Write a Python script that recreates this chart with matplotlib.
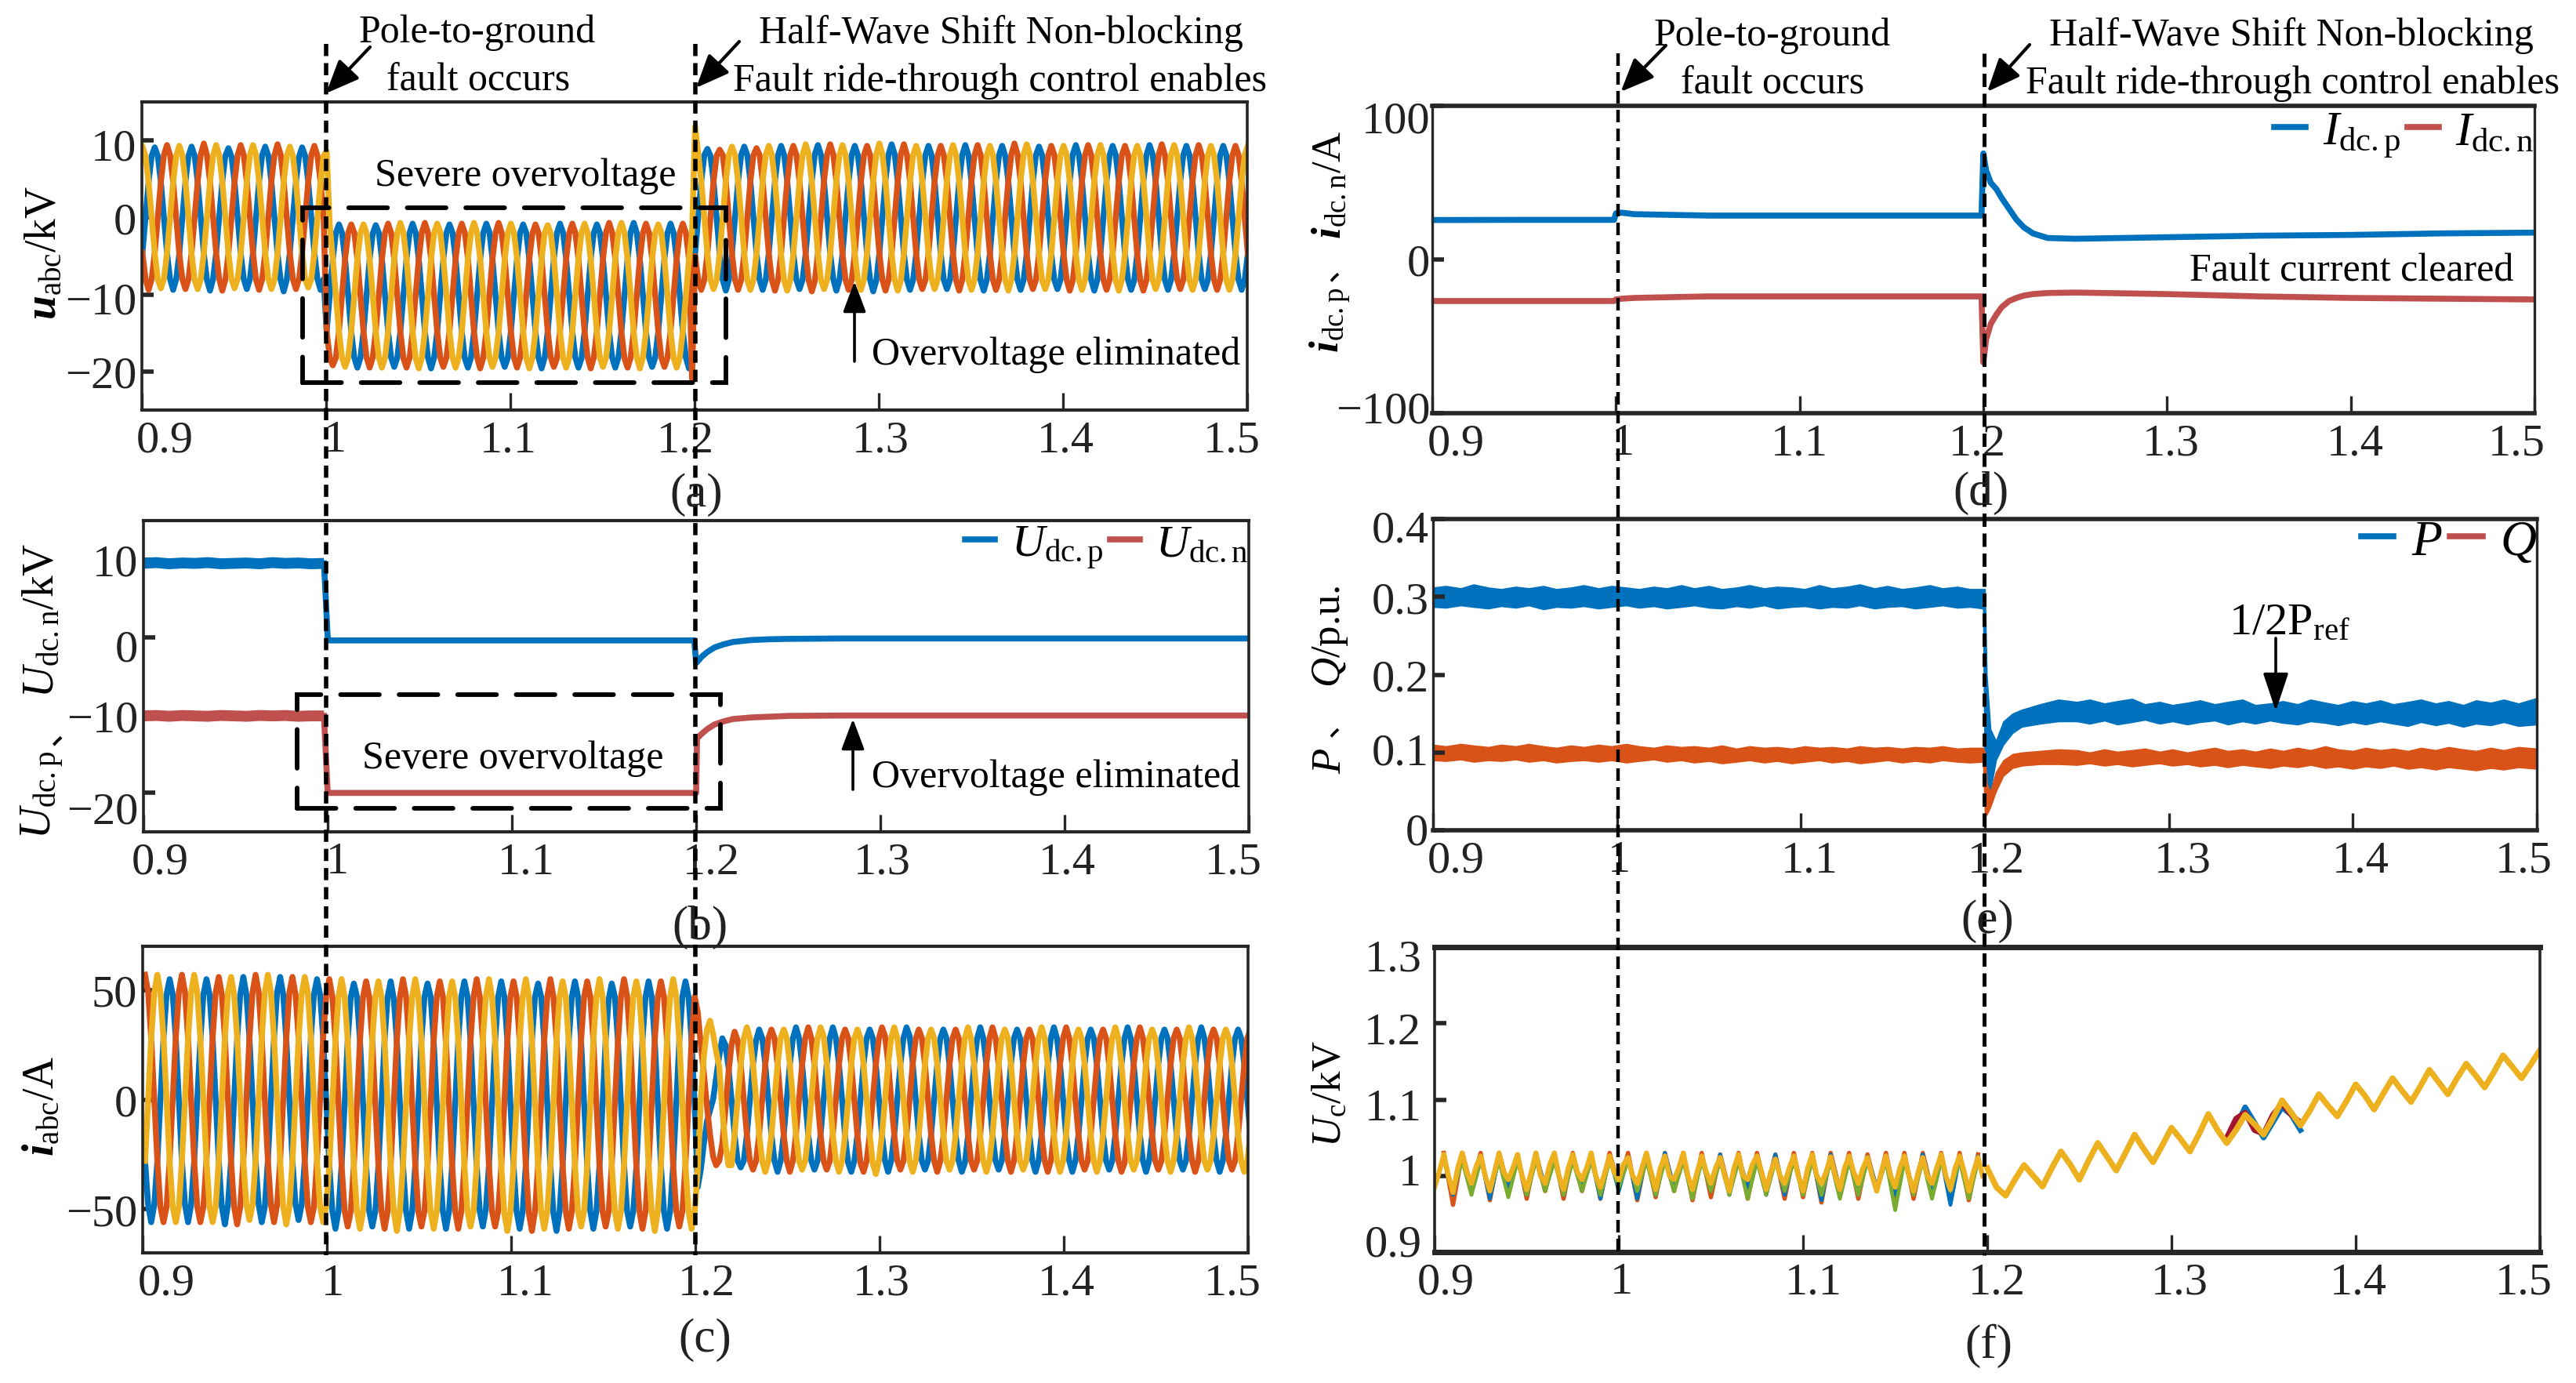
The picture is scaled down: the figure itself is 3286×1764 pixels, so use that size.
import numpy as np
import matplotlib
matplotlib.use('Agg')
import matplotlib.pyplot as plt
from matplotlib.lines import Line2D
from matplotlib.patches import Rectangle, FancyArrowPatch
from matplotlib.transforms import ScaledTranslation

plt.rcParams['font.family'] = ['Liberation Serif', 'Noto Sans CJK SC']
plt.rcParams['mathtext.fontset'] = 'custom'
plt.rcParams['mathtext.rm'] = 'Liberation Serif'
plt.rcParams['mathtext.it'] = 'Liberation Serif:italic'
plt.rcParams['mathtext.bf'] = 'Liberation Serif:bold'
plt.rcParams['mathtext.bfit'] = 'Liberation Serif:italic:bold'

W, H = 3287, 1765
BLUE, ORANGE, YELLOW, RED = '#0072BD', '#D95319', '#EDB120', '#C0504D'
SPINE = '#262626'

# panel (a) phase voltages, kV, sampled every 1/600 s from t = 0.9003
ua_blue = [
-4.6,0,4.6,8,9.1,8,4.6,0,-4.6,-8,-9.4,-8,
-4.7,0,4.6,8,9.2,8,4.6,0,-4.7,-8.1,-9.5,-8,
-4.6,0.1,4.6,8,9.0,7.9,4.6,0,-4.6,-8,-9.3,-8,
-4.6,0,4.7,8.1,9.2,8,4.6,0,-4.7,-8.1,-9.6,-8.1,
-4.6,0,4.6,7.9,9.1,8,4.6,0,-4.6,-8,-9.4,-8,
-14.8,-10.1,-5.4,-2,-0.9,-2,-5.4,-10.1,-14.8,-18.2,-19.5,-18.2,
-14.8,-10.1,-5.4,-2.1,-1,-2,-5.4,-10.1,-14.8,-18.2,-19.4,-18.2,
-14.8,-10.1,-5.4,-2,-0.8,-2,-5.4,-10.1,-14.8,-18.2,-19.6,-18.2,
-14.8,-10,-5.4,-2,-0.9,-2,-5.4,-10.1,-14.8,-18.3,-19.5,-18.2,
-14.8,-10.1,-5.4,-2,-0.8,-1.9,-5.4,-10.1,-14.8,-18.2,-19.4,-18.2,
-14.8,-10.1,-5.4,-2,-0.9,-2,-5.4,-10,-14.8,-18.2,-19.6,-18.2,
-14.8,-10.1,-5.3,-2,-0.8,-2,-5.4,-10.1,-14.8,-18.2,-19.5,-18.3,
-14.8,-10.1,-5.4,-2,-0.9,-2,-5.4,-10.1,-14.9,-18.2,-19.5,-18.2,
-14.8,-10.1,-5.4,-1.9,-0.7,-2,-5.4,-10.1,-14.8,-18.2,-19.4,-18.2,
-14.8,-10.1,-5.4,-2,-0.8,-2,-5.4,-10.1,-14.8,-18.2,-19.6,-18.2,
-4.7,0,4.7,8.1,8.9,8,4.7,0,-4.7,-8.1,-9.5,-8.1,
-4.7,0,4.7,8.1,9.2,8.1,4.7,0,-4.7,-8.1,-9.4,-8.1,
-4.6,0,4.7,8.1,9.3,8.1,4.7,0.1,-4.7,-8.1,-9.3,-8.1,
-4.7,0,4.7,8.2,9.4,8.1,4.6,0,-4.7,-8,-9.5,-8.1,
-4.7,0.1,4.7,8.1,9.3,8.1,4.7,0,-4.7,-8.1,-9.6,-8.2,
-4.7,0,4.8,8.2,9.5,8.2,4.7,0,-4.7,-8.1,-9.4,-8.1,
-4.7,0,4.7,8.1,9.3,8.1,4.7,0,-4.7,-8.1,-9.3,-8.1,
-4.6,0,4.7,8.1,9.4,8.1,4.7,0,-4.8,-8.2,-9.5,-8.1,
-4.7,0,4.7,8.1,9.3,8,4.7,0.1,-4.7,-8.1,-9.4,-8.1,
-4.7,0,4.6,8.1,9.2,8.1,4.7,0,-4.7,-8.1,-9.3,-8.1,
-4.7,0,4.7,8.2,9.4,8.1,4.7,0,-4.7,-8.1,-9.5,-8.1,
-4.7,0.1,4.7,8.1,9.3,8.1,4.7,0,-4.7,-8.1,-9.4,-8.2,
-4.7,0,4.7,8.1,9.4,8.2,4.7,0,-4.7,-8.1,-9.4,-8.1,
-4.7,0,4.7,8.1,9.3,8.1,4.7,0,-4.6,-8.1,-9.3,-8.1,
-4.7,0,4.7,8.1,9.3,8.1,4.7,0,-4.7,-8.1,-9.4,-8.1,-4.7]
ua_orange = [
-4.6,-8,-9.4,-8,-4.6,0,4.6,8.1,9.4,8.1,4.6,0,
-4.7,-8,-9.3,-8,-4.6,0,4.7,8.2,9.6,8.1,4.7,0,
-4.6,-8,-9.5,-8.1,-4.7,0,4.6,8.1,9.4,8.1,4.6,0,
-4.6,-8.1,-9.4,-8,-4.6,0.1,4.7,8.1,9.5,8.2,4.7,0,
-4.6,-8,-9.3,-8,-4.6,0,4.6,8.1,9.3,8,4.6,0,
-14.8,-18.2,-19.2,-18.2,-14.8,-10.1,-5.4,-2,-0.9,-2,-5.4,-10.1,
-14.8,-18.2,-19.5,-18.2,-14.8,-10.1,-5.4,-2,-0.8,-2,-5.4,-10.1,
-14.8,-18.3,-19.5,-18.2,-14.8,-10,-5.4,-1.9,-0.7,-2,-5.4,-10.1,
-14.8,-18.2,-19.4,-18.2,-14.8,-10.1,-5.4,-2,-0.8,-2,-5.3,-10.1,
-14.9,-18.2,-19.6,-18.2,-14.8,-10.1,-5.4,-2,-0.7,-2,-5.4,-10.1,
-14.8,-18.2,-19.5,-18.2,-14.8,-10.1,-5.4,-2.1,-0.9,-2,-5.4,-10.1,
-14.8,-18.2,-19.4,-18.3,-14.8,-10.1,-5.4,-2,-0.8,-2,-5.4,-10.1,
-14.8,-18.2,-19.6,-18.2,-14.8,-10.1,-5.4,-1.9,-0.7,-2,-5.4,-10.1,
-14.9,-18.3,-19.5,-18.2,-14.8,-10.1,-5.4,-2,-0.8,-2,-5.4,-10.1,
-14.8,-18.2,-19.4,-18.2,-14.8,-10.1,-5.4,-2,-0.8,-2,-5.4,-21,
-5,-8.1,-9.4,-8.1,-4.7,0,4.7,8,8.8,8.1,4.7,0,
-4.7,-8.1,-9.4,-8.1,-4.7,0,4.7,8.1,9,8.1,4.7,0,
-4.7,-8.1,-9.5,-8.1,-4.7,0.1,4.7,8.1,9.3,8.1,4.7,0,
-4.7,-8.2,-9.6,-8.2,-4.7,0,4.8,8.2,9.5,8.2,4.7,0,
-4.7,-8.1,-9.4,-8.1,-4.7,0,4.7,8.1,9.3,8.1,4.7,0,
-4.6,-8.1,-9.5,-8.1,-4.7,0,4.7,8.2,9.5,8.1,4.7,0.1,
-4.7,-8.1,-9.3,-8.1,-4.7,0,4.7,8.1,9.3,8.1,4.7,0,
-4.7,-8.2,-9.5,-8.1,-4.7,0,4.7,8.1,9.4,8.1,4.7,0,
-4.7,-8.1,-9.4,-8.1,-4.7,0.1,4.7,8.2,9.6,8.2,4.7,0,
-4.7,-8.1,-9.3,-8.1,-4.7,0,4.7,8.1,9.3,8.1,4.6,0,
-4.7,-8.1,-9.5,-8.2,-4.7,0,4.7,8.1,9.4,8.1,4.7,0,
-4.7,-8.1,-9.4,-8.1,-4.7,0,4.7,8.1,9.3,8.1,4.7,0,
-4.8,-8.2,-9.5,-8.1,-4.7,0,4.7,8.2,9.5,8.1,4.7,0,
-4.7,-8.1,-9.3,-8.1,-4.7,0.1,4.7,8.1,9.4,8.1,4.7,0,
-4.7,-8.1,-9.4,-8.1,-4.7,0,4.7,8.1,9.3,8.1,4.7,0,-4.7]
ua_yellow = [
9.2,8,4.6,0,-4.6,-8,-9.2,-8,-4.6,0,4.6,8,
9.3,8.1,4.7,0,-4.7,-8.1,-9.3,-8,-4.6,0,4.6,8,
9.4,8.1,4.7,0.1,-4.6,-8,-9.2,-8,-4.7,0,4.7,8.1,
9.4,8.1,4.6,0,-4.6,-8,-9.3,-8.1,-4.7,0,4.6,8,
9.2,8,4.6,0,-4.6,-8,-9.1,-8,-4.6,0,4.6,8,
8.6,-1,-5.4,-10.1,-14.8,-18.2,-19.4,-18.2,-14.8,-10.1,-5.4,-2,
-0.9,-2,-5.4,-10.1,-14.8,-18.2,-19.5,-18.2,-14.8,-10.1,-5.4,-2,
-0.7,-2,-5.4,-10.1,-14.8,-18.3,-19.6,-18.2,-14.8,-10.1,-5.4,-2,
-0.8,-1.9,-5.4,-10,-14.8,-18.2,-19.5,-18.2,-14.8,-10.1,-5.4,-2,
-0.7,-2,-5.4,-10.1,-14.8,-18.2,-19.4,-18.2,-14.9,-10.1,-5.4,-2,
-0.8,-2,-5.3,-10.1,-14.8,-18.2,-19.6,-18.3,-14.8,-10.1,-5.4,-2,
-1,-2.1,-5.4,-10.1,-14.8,-18.2,-19.5,-18.2,-14.8,-10,-5.4,-2,
-0.8,-2,-5.4,-10.1,-14.8,-18.2,-19.4,-18.2,-14.8,-10.1,-5.4,-1.9,
-0.7,-2,-5.4,-10.1,-14.9,-18.2,-19.6,-18.2,-14.8,-10.1,-5.4,-2,
-0.9,-2,-5.4,-10.1,-14.8,-18.2,-19.5,-18.2,-14.8,-10.1,-5.4,-2,
11.8,8.2,4.7,0,-4.7,-8.1,-9.3,-8.1,-4.7,0,4.7,8.1,
9.2,8.1,4.7,0,-4.7,-8.1,-9.4,-8.1,-4.7,0,4.7,8.1,
9.3,8.1,4.7,0,-4.8,-8.2,-9.5,-8.1,-4.7,0,4.7,8.1,
9.5,8.2,4.7,0.1,-4.7,-8.1,-9.3,-8.1,-4.7,0,4.7,8.1,
9.4,8.1,4.7,0,-4.7,-8.1,-9.4,-8.1,-4.6,0,4.7,8.2,
9.6,8.2,4.7,0,-4.7,-8.1,-9.5,-8.2,-4.7,0,4.7,8.1,
9.3,8.1,4.7,0,-4.7,-8,-9.3,-8.1,-4.7,0.1,4.7,8.1,
9.4,8.1,4.7,0,-4.7,-8.1,-9.4,-8.1,-4.7,0,4.7,8.1,
9.3,8.1,4.6,0,-4.7,-8.1,-9.5,-8.1,-4.7,0,4.8,8.2,
9.5,8.2,4.7,0,-4.7,-8.1,-9.3,-8.1,-4.7,0,4.7,8.1,
9.3,8.1,4.7,0.1,-4.7,-8.1,-9.4,-8.1,-4.7,0,4.7,8.1,
9.4,8.1,4.7,0,-4.7,-8.2,-9.5,-8.1,-4.7,0,4.7,8.1,
9.3,8.1,4.7,0,-4.7,-8.1,-9.3,-8.1,-4.7,0,4.7,8.1,
9.4,8.1,4.7,0,-4.7,-8.1,-9.4,-8.1,-4.7,0,4.7,8.1,
9.3,8.1,4.7,0,-4.7,-8.1,-9.4,-8.1,-4.7,0,4.7,8.1,9.3]

# panel (c) phase currents, A, sampled every 1/600 s from t = 0.9013
ic_blue = [
-28,-48,-56,-48,-28,0,28,48,55,48,28,0,
-28,-48,-56,-48,-28,0,27,48,55,48,28,0,
-28,-49,-57,-48,-28,0,28,48,56,48,28,0,
-28,-48,-56,-49,-28,0,28,49,56,48,27,0,
-28,-48,-55,-48,-28,0,28,48,55,48,28,0,
-30,-51,-59,-51,-30,-2,27,47,53,47,27,-2,
-30,-51,-58,-51,-30,-2,27,47,54,46,27,-2,
-30,-51,-59,-51,-30,-2,27,47,53,47,27,-2,
-31,-51,-59,-51,-30,-2,27,47,54,47,27,-2,
-30,-51,-58,-50,-30,-2,26,47,54,47,27,-2,
-30,-51,-59,-51,-30,-2,27,47,53,47,27,-2,
-30,-52,-60,-51,-30,-2,27,47,54,47,27,-2,
-30,-51,-59,-51,-30,-2,27,46,53,47,27,-2,
-30,-51,-58,-51,-31,-2,27,47,54,47,27,-2,
-30,-51,-59,-51,-30,-2,27,47,54,47,27,-2,
-40,-32,-20,-10,-5,0,10,20,28,25,15,0,
-16,-28,-31,-28,-16,0,16,27,32,28,16,0,
-16,-28,-33,-28,-16,0,16,28,33,28,16,0,
-16,-28,-32,-28,-16,0,16,28,33,28,16,0,
-17,-29,-33,-28,-16,0,16,28,32,28,16,0,
-16,-28,-33,-28,-16,0,16,28,33,29,17,0,
-16,-28,-32,-28,-16,0,16,28,32,28,16,0,
-16,-28,-33,-29,-17,0,16,28,33,28,16,0,
-16,-28,-32,-28,-16,0,16,28,32,28,16,0,
-16,-28,-33,-28,-16,0,16,28,33,28,16,0,
-17,-28,-33,-28,-16,0,16,28,32,28,16,0,
-16,-28,-32,-28,-16,0,16,28,33,28,16,0,
-16,-28,-33,-28,-16,0,16,28,32,28,16,0,
-16,-28,-32,-28,-16,0,16,28,33,28,16,0,
-16,-28,-33,-28,-16,0,16,28,32,28,16,0,-16]
ic_orange = [
57,49,28,0,-28,-49,-56,-49,-28,0,28,49,
57,49,28,0,-28,-49,-56,-49,-28,0,28,49,
56,48,28,0,-28,-49,-57,-49,-28,0,28,49,
57,49,28,0,-28,-48,-56,-48,-28,0,28,49,
56,48,28,0,-28,-49,-56,-49,-28,0,28,48,
55,47,27,-2,-30,-51,-58,-51,-30,-2,27,47,
54,47,27,-2,-30,-51,-59,-51,-30,-2,27,47,
55,47,27,-2,-30,-51,-58,-51,-30,-2,27,47,
54,47,26,-2,-30,-51,-59,-51,-30,-2,27,47,
55,47,27,-2,-30,-51,-58,-51,-31,-2,27,47,
54,47,27,-2,-30,-52,-60,-51,-30,-2,27,47,
55,47,27,-2,-30,-51,-59,-51,-30,-2,27,47,
54,47,27,-2,-30,-51,-58,-51,-30,-2,26,47,
55,47,27,-2,-30,-51,-59,-51,-30,-2,27,47,
54,47,27,-2,-30,-51,-58,-51,-30,-2,27,47,
40,25,12,-3,-16,-26,-30,-28,-20,-5,12,25,
31,27,16,0,-16,-28,-32,-28,-16,0,16,28,
32,28,16,0,-16,-28,-33,-28,-16,0,16,28,
33,28,16,0,-16,-28,-32,-28,-16,0,16,28,
32,28,16,0,-16,-29,-33,-28,-16,0,16,28,
33,29,17,0,-16,-28,-32,-28,-16,0,16,28,
32,28,16,0,-16,-28,-33,-28,-17,0,16,28,
32,28,16,0,-16,-28,-32,-28,-16,0,16,28,
33,28,16,0,-16,-28,-33,-28,-16,0,16,28,
32,28,16,0,-16,-28,-33,-28,-16,0,16,28,
33,28,16,0,-16,-28,-32,-28,-16,0,16,28,
32,28,16,0,-16,-28,-33,-29,-16,0,16,28,
33,28,16,0,-16,-28,-32,-28,-16,0,16,28,
32,28,16,0,-16,-28,-33,-28,-16,0,16,28,
32,28,16,0,-16,-28,-32,-28,-16,0,16,28,32]
ic_yellow = [
-28,0,28,49,57,49,28,0,-28,-49,-56,-49,
-28,0,28,49,57,49,28,0,-28,-49,-56,-49,
-28,0,28,49,56,48,28,0,-28,-48,-55,-48,
-28,0,28,49,57,49,28,0,-28,-49,-57,-49,
-28,0,28,48,56,49,28,0,-28,-49,-56,-49,
-30,-2,27,47,55,47,27,-2,-30,-51,-59,-51,
-30,-2,27,47,54,47,27,-2,-30,-51,-60,-51,
-30,-2,27,47,55,47,27,-2,-31,-51,-59,-51,
-30,-2,26,47,54,47,27,-2,-30,-51,-58,-51,
-30,-2,27,47,55,47,27,-2,-30,-52,-60,-51,
-30,-2,27,47,55,47,27,-2,-30,-51,-59,-51,
-30,-2,27,47,54,47,26,-2,-30,-51,-58,-51,
-30,-2,27,47,55,47,27,-2,-30,-51,-59,-51,
-30,-2,27,47,54,47,27,-2,-30,-51,-60,-51,
-30,-2,27,47,55,47,27,-2,-30,-51,-59,-51,
-32,0,20,32,36,30,22,15,-5,-20,-30,-30,
-16,0,16,28,33,28,16,0,-16,-28,-33,-28,
-16,0,16,28,32,28,16,0,-16,-28,-32,-28,
-16,0,16,28,33,29,17,0,-16,-28,-33,-28,
-16,0,16,28,32,28,16,0,-16,-29,-34,-28,
-16,0,16,28,33,28,16,0,-16,-28,-33,-28,
-16,0,16,28,32,28,16,0,-16,-28,-32,-28,
-16,0,16,28,33,28,16,0,-17,-28,-33,-28,
-16,0,16,28,32,28,16,0,-16,-28,-32,-28,
-16,0,16,28,33,28,16,0,-16,-28,-33,-28,
-16,0,16,28,32,28,16,0,-16,-28,-33,-28,
-16,0,16,28,33,28,16,0,-16,-28,-32,-28,
-16,0,16,28,32,28,16,0,-16,-28,-33,-28,
-16,0,16,28,33,28,16,0,-16,-28,-32,-28,
-16,0,16,28,32,28,16,0,-16,-28,-33,-28,-16]

# panel (b) DC pole voltages, kV
tb_pre = [.9,.907,.914,.921,.928,.935,.942,.949,.956,.963,.97,.977,.984,.991,.998]
ub_p_pre = [9.5,9.6,9.45,9.55,9.5,9.6,9.45,9.5,9.55,9.45,9.6,9.5,9.55,9.45,9.5]
ub_n_pre = [-10.1,-10.05,-10.15,-10.05,-10.1,-10.15,-10.05,-10.1,-10.15,-10.05,-10.1,-10.05,-10.15,-10.1,-10.1]
tb_post = [.998,1.0,1.001,1.05,1.1,1.15,1.199,1.2,1.2005,1.203,1.206,1.21,1.215,1.22,1.23,1.24,1.25,1.28,1.32,1.4,1.5]
ub_p_post = [9.5,0,-0.4,-0.4,-0.4,-0.4,-0.4,-3.3,-3.2,-2.5,-1.9,-1.3,-0.9,-0.6,-0.35,-0.25,-0.2,-0.15,-0.15,-0.15,-0.15]
ub_n_post = [-10.1,-20,-20,-20,-20,-20,-20,-20,-13,-12.4,-11.8,-11.2,-10.8,-10.5,-10.3,-10.2,-10.1,-10.05,-10.05,-10.05,-10.05]

# panel (d) DC pole currents, A
td = [.9,.95,.999,1.0,1.003,1.01,1.05,1.1,1.199,1.2,1.2015,1.204,1.207,1.21,1.214,1.218,1.222,1.227,1.235,1.25,1.3,1.35,1.4,1.45,1.5]
id_p = [25.7,25.8,25.8,30,30.5,29.5,28.6,28.6,28.6,69,58,50,46,40,33,26,21,17,14,13.5,14.5,15.5,16,17,17.5]
id_n = [-27,-27,-27,-26,-25.5,-25,-24,-24,-24,-67,-52,-42,-36,-31,-27,-25,-23.5,-22.5,-21.8,-21.5,-22.5,-24,-25,-25.5,-26]

# panel (e) active and reactive power envelopes, p.u.
te = [.9,.907,.915,.922,.93,.937,.945,.952,.96,.967,.975,.982,.99,.997,1.005,1.012,1.02,1.027,1.035,1.042,1.05,1.057,1.065,1.072,1.08,1.087,1.095,1.102,1.11,1.117,1.125,1.132,1.14,1.147,1.155,1.162,1.17,1.177,1.185,1.192,
      1.199,1.2,1.201,1.203,1.206,1.21,1.215,1.22,1.23,1.24,
      1.25,1.257,1.265,1.272,1.28,1.287,1.295,1.302,1.31,1.317,1.325,1.332,1.34,1.347,1.355,1.362,1.37,1.377,1.385,1.392,1.4,1.407,1.415,1.422,1.43,1.437,1.445,1.452,1.46,1.467,1.475,1.482,1.49,1.5]
p_hi = [.312,.314,.311,.316,.312,.31,.313,.311,.314,.31,.312,.315,.311,.314,.312,.31,.313,.311,.315,.311,.314,.31,.312,.315,.311,.313,.312,.31,.315,.311,.313,.316,.311,.314,.31,.312,.315,.311,.313,.31,
        .31,.31,.2,.13,.115,.14,.15,.155,.162,.168,
        .165,.168,.163,.166,.169,.162,.165,.161,.164,.167,.162,.165,.168,.161,.163,.166,.162,.168,.164,.161,.166,.163,.167,.162,.165,.168,.163,.166,.161,.167,.164,.168,.163,.17]
p_lo = [.287,.286,.289,.287,.285,.288,.286,.289,.284,.287,.286,.288,.285,.287,.289,.286,.288,.285,.287,.289,.286,.285,.288,.286,.289,.285,.287,.288,.285,.287,.286,.289,.285,.287,.288,.285,.287,.289,.286,.287,
        .285,.03,.03,.05,.09,.11,.125,.133,.137,.14,
        .14,.137,.141,.136,.139,.142,.137,.14,.136,.139,.141,.136,.14,.137,.141,.138,.136,.14,.138,.135,.139,.136,.14,.137,.134,.139,.135,.138,.133,.137,.135,.139,.134,.136]
q_hi = [.11,.108,.111,.109,.107,.11,.108,.111,.108,.106,.109,.107,.11,.108,.111,.108,.106,.109,.107,.108,.106,.109,.105,.108,.106,.107,.105,.108,.106,.107,.105,.108,.106,.107,.105,.107,.106,.108,.105,.106,
        .106,.1,.06,.05,.075,.09,.098,.1,.102,.104,
        .103,.1,.104,.101,.103,.105,.101,.104,.1,.103,.106,.102,.104,.101,.105,.102,.106,.103,.108,.104,.102,.106,.103,.105,.102,.106,.103,.107,.104,.102,.106,.103,.107,.105]
q_lo = [.09,.089,.091,.088,.09,.089,.091,.088,.09,.087,.089,.09,.088,.09,.087,.089,.091,.088,.09,.087,.089,.086,.088,.09,.087,.089,.086,.088,.09,.087,.089,.086,.088,.09,.087,.089,.087,.09,.088,.087,
        .088,.018,.02,.03,.05,.07,.08,.083,.085,.085,
        .084,.086,.083,.085,.082,.084,.086,.083,.085,.082,.084,.081,.084,.082,.08,.083,.081,.084,.08,.082,.079,.082,.08,.083,.079,.081,.078,.081,.079,.077,.08,.078,.081,.079]

# panel (f) capacitor voltage traces, kV
tf_pre_y = [.9,.9025,.905,.9075,.91,.9125,.915,.9175,.92,.9225,.925,.9275,.93,.9325,.935,.9375,.94,.9425,.945,.9475,.95,.9525,.955,.9575,.96,.9625,.965,.9675,.97,.9725,.975,.9775,.98,.9825,.985,.9875,.99,.9925,.995,.9975,
            1.0,1.0025,1.005,1.0075,1.01,1.0125,1.015,1.0175,1.02,1.0225,1.025,1.0275,1.03,1.0325,1.035,1.0375,1.04,1.0425,1.045,1.0475,1.05,1.0525,1.055,1.0575,1.06,1.0625,1.065,1.0675,1.07,1.0725,1.075,1.0775,1.08,1.0825,1.085,1.0875,1.09,1.0925,1.095,1.0975,
            1.1,1.1025,1.105,1.1075,1.11,1.1125,1.115,1.1175,1.12,1.1225,1.125,1.1275,1.13,1.1325,1.135,1.1375,1.14,1.1425,1.145,1.1475,1.15,1.1525,1.155,1.1575,1.16,1.1625,1.165,1.1675,1.17,1.1725,1.175,1.1775,1.18,1.1825,1.185,1.1875,1.19,1.1925,1.195,1.1975]
uf_pre_y = [.985,1.005,1.028,1.0,.978,1.01,1.03,1.005,.99,1.012,1.026,1.0,.98,1.005,1.03,1.005,.995,1.01,1.028,1.0,.982,1.005,1.03,1.0,.99,1.015,1.03,1.0,.982,1.01,1.028,1.005,.995,1.01,1.03,1.0,.985,1.005,1.026,1.005,
            .995,1.015,1.024,1.0,.99,1.01,1.03,1.005,.982,1.01,1.026,1.0,.995,1.01,1.03,1.0,.982,1.005,1.026,1.005,.99,1.01,1.024,1.0,.98,1.01,1.028,1.0,.995,1.015,1.026,1.005,.982,1.005,1.022,1.0,.99,1.01,1.026,1.0,
            .98,1.01,1.028,1.0,.99,1.005,1.025,1.0,.982,1.01,1.026,1.005,.99,1.01,1.024,1.0,.98,1.005,1.026,1.0,.985,1.01,1.026,1.0,.98,1.005,1.024,1.0,.99,1.01,1.028,1.0,.982,1.01,1.026,1.005,.98,1.005,1.024,1.0]
tf_post = [1.2,1.205,1.21,1.215,1.22,1.225,1.23,1.235,1.24,1.245,1.25,1.255,1.26,1.265,1.27,1.275,1.28,1.285,1.29,1.295,1.3,1.305,1.31,1.315,1.32,1.325,1.33,1.335,1.34,1.345,1.35,1.355,1.36,1.365,1.37,1.375,1.38,1.385,1.39,1.395,1.4,1.405,1.41,1.415,1.42,1.425,1.43,1.435,1.44,1.445,1.45,1.455,1.46,1.465,1.47,1.475,1.48,1.485,1.49,1.495,1.5]
uf_post_y = [1.01,.985,.974,.995,1.014,1.0,.986,1.01,1.032,1.015,.995,1.02,1.043,1.025,1.007,1.03,1.054,1.035,1.018,1.04,1.063,1.048,1.032,1.055,1.081,1.06,1.043,1.06,1.08,1.068,1.054,1.075,1.099,1.083,1.066,1.085,1.107,1.092,1.078,1.098,1.12,1.105,1.087,1.108,1.128,1.112,1.097,1.117,1.139,1.123,1.107,1.128,1.147,1.132,1.116,1.136,1.158,1.143,1.128,1.146,1.165]
tf_under = [.905,.91,.915,.92,.925,.93,.935,.94,.945,.95,.955,.96,.965,.97,.975,.98,.985,.99,.995,1.0,1.005,1.01,1.015,1.02,1.025,1.03,1.035,1.04,1.045,1.05,1.055,1.06,1.065,1.07,1.075,1.08,1.085,1.09,1.095,1.1,1.105,1.11,1.115,1.12,1.125,1.13,1.135,1.14,1.145,1.15,1.155,1.16,1.165,1.17,1.175,1.18,1.185,1.19,1.195]
uf_orange = [1.03,.962,1.03,.985,1.03,.968,1.03,.985,1.028,.97,1.03,.98,1.03,.97,1.03,.98,1.03,.97,1.03,.985,1.03,.968,1.028,.972,1.03,.98,1.03,.968,1.03,.972,1.028,.98,1.03,.97,1.03,.98,1.028,.97,1.03,.972,1.03,.965,1.03,.98,1.03,.97,1.028,.98,1.03,.972,1.03,.97,1.03,.98,1.03,.97,1.03,.968,1.028]
uf_blue = [1.025,.975,1.028,.98,1.025,.97,1.025,.985,1.025,.975,1.028,.985,1.025,.975,1.025,.985,1.025,.97,1.025,.98,1.025,.97,1.028,.975,1.03,.985,1.025,.975,1.025,.98,1.028,.975,1.025,.985,1.025,.975,1.028,.975,1.025,.98,1.025,.968,1.028,.98,1.025,.975,1.025,.985,1.025,.975,1.025,.978,1.028,.98,1.025,.962,1.025,.975,1.025]
uf_green = [1.02,.98,1.02,.975,1.02,.98,1.02,.972,1.02,.975,1.02,.98,1.02,.975,1.02,.98,1.02,.975,1.02,.985,1.02,.98,1.02,.975,1.02,.98,1.02,.97,1.02,.98,1.02,.975,1.02,.97,1.02,.975,1.02,.98,1.02,.975,1.02,.975,1.02,.97,1.02,.975,1.02,.98,1.02,.955,1.02,.975,1.02,.97,1.02,.98,1.02,.97,1.02]
tf_post_under = [1.33,1.335,1.34,1.345,1.35,1.355,1.36,1.365,1.37]
uf_post_blue = [1.045,1.065,1.09,1.07,1.05,1.07,1.09,1.08,1.06]
uf_post_red = [1.05,1.075,1.083,1.06,1.055,1.08,1.095,1.08,1.07]

def px_x(x): return x / W
def px_y(y): return 1 - y / H

def make_axes(l, t, r, b, ylim, yticks, ylabels, ylw, xnudge, ynudge, xlw, ypad):
    ax = fig.add_axes([l / W, 1 - b / H, (r - l) / W, (b - t) / H])
    ax.set_xlim(.9, 1.5)
    ax.set_ylim(*ylim)
    ax.set_xticks([.9, 1, 1.1, 1.2, 1.3, 1.4, 1.5])
    ax.set_xticklabels(['0.9', '1', '1.1', '1.2', '1.3', '1.4', '1.5'])
    ax.set_yticks(yticks)
    ax.set_yticklabels(ylabels)
    ax.tick_params(axis='x', direction='in', length=16, width=2.4, color=SPINE,
                   labelsize=42, labelcolor='#222222', pad=9)
    ax.tick_params(axis='y', direction='in', length=11, width=4, color=SPINE,
                   labelsize=42, labelcolor='#222222', pad=ypad)
    for s in ('top', 'bottom'):
        ax.spines[s].set_linewidth(ylw)
    for s in ('left', 'right'):
        ax.spines[s].set_linewidth(xlw)
    for s in ax.spines.values():
        s.set_color(SPINE)
    for lab, dx in zip(ax.get_xticklabels(), xnudge):
        lab.set_transform(lab.get_transform() + ScaledTranslation(dx / 100, 0, fig.dpi_scale_trans))
    for lab, dy in zip(ax.get_yticklabels(), ynudge):
        lab.set_transform(lab.get_transform() + ScaledTranslation(0, dy / 100, fig.dpi_scale_trans))
    return ax

def ftext(x, y, s, size=36, **kw):
    kw.setdefault('ha', 'center')
    kw.setdefault('va', 'center')
    if 'rotation' not in kw:
        y = y + 3
    fig.text(px_x(x), px_y(y), s, fontsize=size, color=kw.pop('color', 'black'), **kw)

def vline(x, y0, y1, lw, on, off):
    fig.add_artist(Line2D([px_x(x), px_x(x)], [px_y(y0), px_y(y1)], color='black',
                          lw=lw, linestyle=(0, (on, off)), transform=fig.transFigure))

def drect(l, t, r, b):
    fig.add_artist(Rectangle((px_x(l), px_y(b)), (r - l) / W, (b - t) / H, fill=False,
                             ec='black', lw=4.2, linestyle=(0, (8.5, 4.3)),
                             transform=fig.transFigure, capstyle='round'))

def arrow(x0, y0, x1, y1, lw=3, hl=2.6, hw=1.1):
    fig.add_artist(FancyArrowPatch((px_x(x0), px_y(y0)), (px_x(x1), px_y(y1)),
                                   transform=fig.transFigure, color='black', lw=lw,
                                   arrowstyle=f'-|>,head_length={hl},head_width={hw}',
                                   mutation_scale=10, shrinkA=0, shrinkB=0))

fig = plt.figure(figsize=(W / 100, H / 100), dpi=100, facecolor='white')

ax_a = make_axes(181, 131, 1591, 524, (-25, 15), [10, 0, -10, -20], ['10', '0', '\u221210', '\u221220'],
                 3, [29, 11, -3, -12, 2, 3, -20], [-4, 0, -4, 0], 2.6, 5)
t_a = .9003 + np.arange(len(ua_blue)) / 600
ax_a.plot(t_a, ua_blue, color=BLUE, lw=5.4)
ax_a.plot(t_a, ua_orange, color=ORANGE, lw=5.4)
ax_a.plot(t_a, ua_yellow, color=YELLOW, lw=5.4)

ax_b = make_axes(183, 665, 1593, 1062, (-25, 15), [10, 0, -10, -20], ['10', '0', '\u221210', '\u221220'],
                 3, [21, 12, 18, 19, 2, 3, -20], [0, -10, 0, -18], 2.6, 5)
ax_b.plot(tb_pre, ub_p_pre, color=BLUE, lw=10, solid_capstyle='butt')
ax_b.plot(tb_pre, ub_n_pre, color=RED, lw=10, solid_capstyle='butt')
ax_b.plot(tb_post, ub_p_post, color=BLUE, lw=5.5, label=r'$U_{\mathrm{dc.p}}$')
ax_b.plot(tb_post, ub_n_post, color=RED, lw=5.5, label=r'$U_{\mathrm{dc.n}}$')

ax_c = make_axes(182, 1208, 1592, 1599, (-70, 70), [50, 0, -50], ['50', '0', '\u221250'],
                 3, [30, 7, 18, 14, 2, 3, -20], [0, 0, 0], 2.6, 5)
t_c = .9013 + np.arange(len(ic_blue)) / 600
ax_c.plot(t_c, ic_blue, color=BLUE, lw=5.4)
ax_c.plot(t_c, ic_orange, color=ORANGE, lw=5.4)
ax_c.plot(t_c, ic_yellow, color=YELLOW, lw=5.4)

ax_d = make_axes(1827, 136, 3233, 528, (-100, 100), [100, 0, -100], ['100', '0', '\u2212100'],
                 4, [30, 9, 0, -8, 5, 6, -23], [-13, 0, 8], 2.4, 2)
ax_d.plot(td, id_p, color=BLUE, lw=5.5, label=r'$I_{\mathrm{dc.p}}$')
ax_d.plot(td, id_n, color=RED, lw=5.5, label=r'$I_{\mathrm{dc.n}}$')

ax_e = make_axes(1828, 663, 3236, 1060, (0, .4), [.4, .3, .2, .1, 0], ['0.4', '0.3', '0.2', '0.1', '0'],
                 4, [29, 3, 11, 14, 18, 10, -17], [-9, 0, 0, 5, 2], 2.4, 4)
ax_e.fill_between(te, p_lo, p_hi, color=BLUE, lw=1)
ax_e.fill_between(te, q_lo, q_hi, color=ORANGE, lw=1)
ax_e.plot([], [], color=BLUE, lw=5, label=r'$P$')
ax_e.plot([], [], color=RED, lw=5, label=r'$Q$')

ax_f = make_axes(1830, 1209, 3240, 1598, (.9, 1.3), [1.3, 1.2, 1.1, 1, .9], ['1.3', '1.2', '1.1', '1', '0.9'],
                 5, [14, 3, 13, 12, 10, 3, -21], [-10, -5, -5, 9, 15], 2.6, 12)
ax_f.plot(tf_under, uf_orange, color=ORANGE, lw=4)
ax_f.plot(tf_under, uf_blue, color=BLUE, lw=3.5)
ax_f.plot(tf_under, uf_green, color='#77AC30', lw=3.5)
ax_f.plot(tf_post_under, uf_post_blue, color=BLUE, lw=5)
ax_f.plot(tf_post_under, uf_post_red, color='#A2142F', lw=5)
ax_f.plot(tf_pre_y, uf_pre_y, color=YELLOW, lw=4.6)
ax_f.plot(tf_post, uf_post_y, color=YELLOW, lw=5.4)

# legends: (axes, font size, anchor y)
for ax, fs, ya in ((ax_b, 42, .99), (ax_d, 44, .985), (ax_e, 46, 1.0)):
    leg = ax.legend(ncol=2, loc='upper right', frameon=False, fontsize=fs, handlelength=.65,
                    handletextpad=.35, columnspacing=.15, borderaxespad=0, borderpad=0,
                    bbox_to_anchor=(1.0, ya))
    for h in leg.get_lines():
        h.set_linewidth(5.5)

# y labels
ftext(57, 322, r'$\mathbfit{u}_{\mathrm{abc}}$/kV', size=40, rotation=90)
ftext(54, 1014, r'$U_{\mathrm{dc.p}}$', size=40, rotation=90)
ftext(63, 929, '\u3001', size=32, rotation=90, family='Noto Sans CJK SC')
ftext(54, 791, r'$U_{\mathrm{dc.n}}$/kV', size=40, rotation=90)
ftext(54, 1411, r'$\mathbfit{i}_{\mathrm{abc}}$/A', size=40, rotation=90)
ftext(1697, 408, r'$\mathbfit{i}_{\mathrm{dc.p}}$', size=38, rotation=90)
ftext(1693, 338, '\u3001', size=30, rotation=90, family='Noto Sans CJK SC')
ftext(1697, 236, r'$\mathbfit{i}_{\mathrm{dc.n}}$/A', size=38, rotation=90)
ftext(1697, 970, r'$P$', size=38, rotation=90)
ftext(1693, 919, '\u3001', size=30, rotation=90, family='Noto Sans CJK SC')
ftext(1697, 812, r'$Q$/p.u.', size=38, rotation=90)
ftext(1697, 1395, r'$U_{\mathrm{c}}$/kV', size=38, rotation=90)

# panel captions
for x, y, s in ((888, 628, '(a)'), (893, 1180, '(b)'), (899, 1706, '(c)'),
                (2527, 626, '(d)'), (2535, 1172, '(e)'), (2537, 1714, '(f)')):
    ftext(x, y, s, size=44, color='#222222')

# annotation text
ftext(609, 39, 'Pole-to-ground')
ftext(610, 100, 'fault occurs')
ftext(1277, 40, 'Half-Wave Shift Non-blocking')
ftext(1276, 101, 'Fault ride-through control enables')
ftext(2261, 43, 'Pole-to-ground')
ftext(2261, 104, 'fault occurs')
ftext(2923, 43, 'Half-Wave Shift Non-blocking')
ftext(2925, 104, 'Fault ride-through control enables')
ftext(670, 222, 'Severe overvoltage')
ftext(654, 965, 'Severe overvoltage')
ftext(1347, 450, 'Overvoltage eliminated')
ftext(1347, 989, 'Overvoltage eliminated')
ftext(3000, 343, 'Fault current cleared')
ftext(2920, 792, r'1/2P$_{\mathrm{ref}}$', size=42)

# dashed guides and boxes
vline(416, 57, 1602, 4, 2.8, 1.6)
vline(887, 57, 1602, 4, 2.8, 1.6)
vline(2064, 69, 1602, 3.2, 3.6, 1.8)
vline(2531, 69, 1602, 3.6, 3.4, 1.7)
drect(386.5, 266, 926, 488.5)
drect(379.5, 887, 919, 1032)

# arrows
arrow(472, 61, 416, 120)
arrow(943, 54, 888, 113)
arrow(2125, 59, 2067.5, 118)
arrow(2589, 58, 2535, 118)
arrow(1090, 462, 1090, 360, lw=2.6, hl=2.4, hw=.9)
arrow(1088, 1008, 1088, 918, lw=2.6, hl=2.4, hw=.9)
arrow(2903, 815, 2903, 908, lw=2.6, hl=3.0, hw=1.0)

fig.savefig('out.png', dpi=100)
